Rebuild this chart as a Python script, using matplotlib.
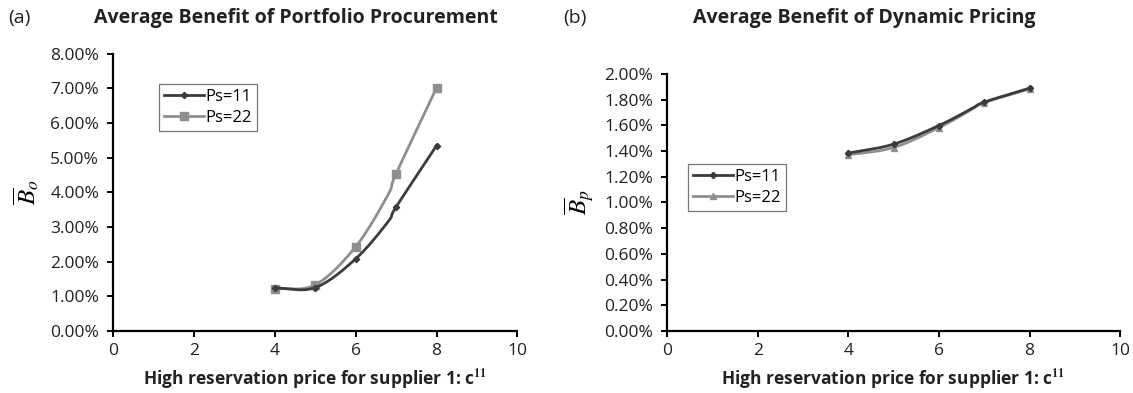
import numpy as np
import matplotlib
matplotlib.use("Agg")
import matplotlib.pyplot as plt

# ---------------- data ----------------
x_a = [4, 5, 6, 6.8, 7, 8]
a_ps11 = [1.24, 1.25, 2.08, 3.15, 3.58, 5.35]
a_ps22 = [1.21, 1.33, 2.43, 3.93, 4.54, 7.02]

x_b = [4, 5, 6, 6.7, 7, 8]
b_ps11 = [1.383, 1.453, 1.598, 1.725, 1.780, 1.889]
b_ps22 = [1.370, 1.427, 1.582, 1.718, 1.777, 1.883]

marked = [0, 1, 2, 4, 5]  # indices shown with markers
labels = ["Ps=11", "Ps=22"]
xticks = [0, 2, 4, 6, 8, 10]
yticks_a = [0, 1, 2, 3, 4, 5, 6, 7, 8]
yticks_b = [0, 0.2, 0.4, 0.6, 0.8, 1.0, 1.2, 1.4, 1.6, 1.8, 2.0]

C11 = "#3c3c3c"
C22 = "#8f8f8f"
TXT = "#222222"
plt.rcParams['font.family'] = ["Open Sans", "DejaVu Sans"]
plt.rcParams['mathtext.fontset'] = 'stix'


def smooth(x, y, n=30):
    """Catmull-Rom smoothing (like Excel's smoothed line) for drawing."""
    x = np.asarray(x, float)
    y = np.asarray(y, float)
    P = np.column_stack([x, y])
    P = np.vstack([2 * P[0] - P[1], P, 2 * P[-1] - P[-2]])
    out = []
    for i in range(1, len(P) - 2):
        p0, p1, p2, p3 = P[i - 1], P[i], P[i + 1], P[i + 2]
        t = np.linspace(0, 1, n)[:, None]
        c1 = p1 + (p2 - p0) / 6
        c2 = p2 - (p3 - p1) / 6
        seg = ((1 - t) ** 3) * p1 + 3 * ((1 - t) ** 2) * t * c1 + 3 * (1 - t) * t ** 2 * c2 + t ** 3 * p2
        out.append(seg if i == 1 else seg[1:])
    S = np.vstack(out)
    return S[:, 0], S[:, 1]


def draw(ax, x, s1, s2, m2, ms2):
    for ys, col, mk, ms in [(s1, C11, "D", 3.2), (s2, C22, m2, ms2)]:
        z = 3 if col == C11 else 2
        sx, sy = smooth(x, ys)
        ax.plot(sx, sy, color=col, lw=2.0, zorder=z)
        xm = [x[i] for i in marked]
        ym = [ys[i] for i in marked]
        ax.plot(xm, ym, linestyle="none", marker=mk, ms=ms, color=col, zorder=z)
    h1, = ax.plot([], [], color=C11, lw=2.0, marker="D", ms=3.2, label=labels[0])
    h2, = ax.plot([], [], color=C22, lw=2.0, marker=m2, ms=ms2, label=labels[1])
    return [h1, h2]


def style(ax, yt, fmt):
    for s in ["top", "right"]:
        ax.spines[s].set_visible(False)
    for s in ["left", "bottom"]:
        ax.spines[s].set_linewidth(1.6)
        ax.spines[s].set_color("black")
    ax.set_xlim(0, 10)
    ax.set_xticks(xticks)
    ax.set_xticklabels([str(v) for v in xticks], fontsize=12.5, color=TXT)
    ax.set_ylim(yt[0], yt[-1])
    ax.set_yticks(yt)
    ax.set_yticklabels([fmt.format(v) for v in yt], fontsize=12.5, color=TXT)
    ax.tick_params(direction="out", length=4, width=1.4)
    ax.tick_params(axis="y", pad=6)
    ax.tick_params(axis="x", pad=5)
    ax.set_xlabel(r"High reservation price for supplier 1: c$^{\mathbf{11}}$", fontsize=12.5,
                  fontweight="bold", color=TXT, labelpad=6)


fig = plt.figure(figsize=(11.33, 3.93), dpi=100)
axa = fig.add_axes([0.0997, 0.158, 0.357, 0.705])
axb = fig.add_axes([0.5887, 0.158, 0.400, 0.654])

ha = draw(axa, x_a, a_ps11, a_ps22, "s", 5.5)
style(axa, yticks_a, "{:.2f}%")
hb = draw(axb, x_b, b_ps11, b_ps22, "^", 5)
style(axb, yticks_b, "{:.2f}%")

for ax, h, loc in [(axa, ha, (0.114, 0.722)), (axb, hb, (0.046, 0.467))]:
    leg = ax.legend(handles=h, loc="lower left", bbox_to_anchor=loc, fontsize=12,
                    frameon=True, fancybox=False, edgecolor="#555555", handlelength=2.4,
                    handletextpad=0.1, borderpad=0.3, labelspacing=0.3, borderaxespad=0)
    leg.get_frame().set_linewidth(0.9)

axa.set_ylabel(r"$\overline{B}_o$", fontsize=18, labelpad=6)
axb.set_ylabel(r"$\overline{B}_p$", fontsize=18, labelpad=6)

fig.text(0.007, 0.955, "(a)", fontsize=14, color=TXT, va="center")
fig.text(0.261, 0.955, "Average Benefit of Portfolio Procurement", fontsize=14,
         fontweight="bold", color=TXT, ha="center", va="center")
fig.text(0.497, 0.955, "(b)", fontsize=14, color=TXT, va="center")
fig.text(0.763, 0.955, "Average Benefit of Dynamic Pricing", fontsize=14,
         fontweight="bold", color=TXT, ha="center", va="center")

fig.savefig("out.png", dpi=100)
